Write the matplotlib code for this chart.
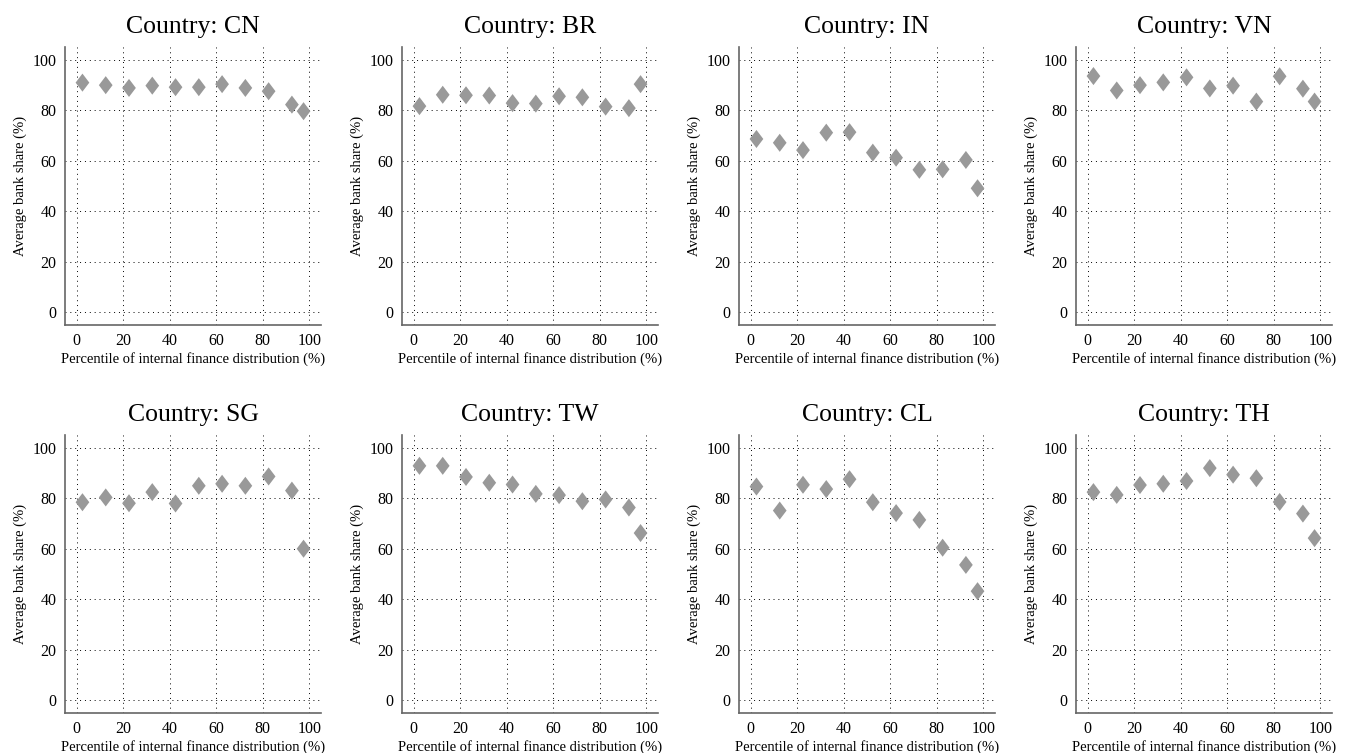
import matplotlib
matplotlib.use('Agg')
import matplotlib.pyplot as plt

plt.rcParams['font.family'] = ['Liberation Serif', 'DejaVu Serif']

# percentile bins (x)
pct = [2.5, 12.5, 22.5, 32.5, 42.5, 52.5, 62.5, 72.5, 82.5, 92.5, 97.5]

countries = ['CN', 'BR', 'IN', 'VN', 'SG', 'TW', 'CL', 'TH']

cn = [90.9, 89.9, 88.8, 89.7, 89.1, 89.1, 90.3, 88.8, 87.5, 82.2, 79.6]
br = [81.6, 86.1, 85.9, 85.8, 82.8, 82.6, 85.5, 85.1, 81.4, 80.8, 90.3]
ind = [68.6, 67.1, 64.2, 71.1, 71.3, 63.2, 61.2, 56.4, 56.6, 60.3, 49.1]
vn = [93.5, 87.8, 89.9, 91.0, 93.0, 88.6, 89.7, 83.4, 93.4, 88.5, 83.4]
sg = [78.4, 80.3, 78.0, 82.4, 77.9, 84.9, 85.7, 84.9, 88.6, 83.0, 60.0]
tw = [92.8, 92.8, 88.4, 86.1, 85.4, 81.7, 81.2, 78.8, 79.5, 76.3, 66.2]
cl = [84.6, 75.1, 85.3, 83.6, 87.5, 78.4, 74.1, 71.4, 60.4, 53.6, 43.2]
th = [82.4, 81.3, 85.2, 85.7, 86.8, 91.9, 89.3, 87.9, 78.5, 73.9, 64.2]

shares = [cn, br, ind, vn, sg, tw, cl, th]

W, H = 1345, 753
fig = plt.figure(figsize=(13.45, 7.53), dpi=100)

lefts = [65, 402, 739, 1076]
tops = [47, 435]
aw, ah = 256, 278

diamond = [(0, 1), (0.76, 0), (0, -1), (-0.76, 0), (0, 1)]

for i, (c, y) in enumerate(zip(countries, shares)):
    r, k = divmod(i, 4)
    ax = fig.add_axes([lefts[k] / W, 1 - (tops[r] + ah) / H, aw / W, ah / H])
    ax.scatter(pct, y, marker=diamond, s=13 ** 2, color='#999999',
               edgecolors='none', zorder=3)
    ax.set_xlim(-5, 105)
    ax.set_ylim(-5, 105)
    ax.set_xticks([0, 20, 40, 60, 80, 100])
    ax.set_yticks([0, 20, 40, 60, 80, 100])
    ax.grid(True, linestyle=(0, (1, 4)), color='black', linewidth=0.7)
    for s in ['top', 'right']:
        ax.spines[s].set_visible(False)
    for s in ['left', 'bottom']:
        ax.spines[s].set_color('#666666')
        ax.spines[s].set_linewidth(1.2)
    ax.tick_params(length=0, labelsize=11.5, pad=6)
    ax.set_title('Country: ' + c, fontsize=18.5, pad=10)
    ax.set_xlabel('Percentile of internal finance distribution (%)', fontsize=10.5, labelpad=2)
    ax.set_ylabel('Average bank share (%)', fontsize=10.5, labelpad=4)

fig.savefig('out.png', dpi=100)
